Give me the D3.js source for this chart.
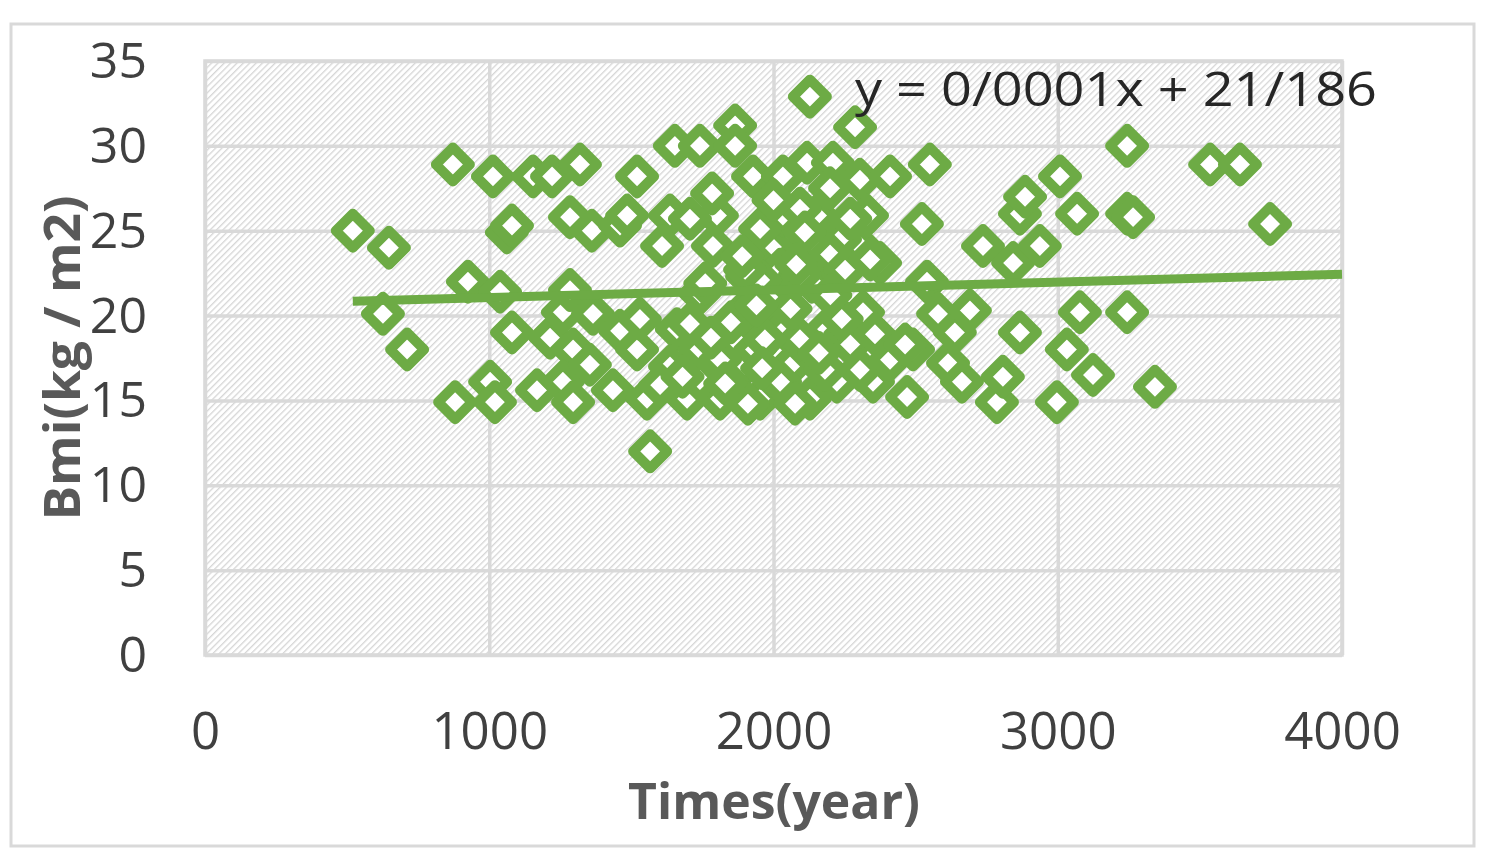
<!DOCTYPE html>
<html>
<head>
<meta charset="utf-8">
<script src="https://cdn.jsdelivr.net/npm/d3@7/dist/d3.min.js"></script>
<style>
  html, body { margin: 0; padding: 0; background: #ffffff; }
  svg { display: block; }
</style>
</head>
<body>
<svg id="chart" width="1500" height="860"></svg>
<script>
// ---- data ----
const times = [
  520, 647, 626, 711, 872, 925, 880, 1013, 1003, 1020,
  1038, 1062, 1080, 1080, 1154, 1221, 1319, 1168, 1214, 1259,
  1284, 1284, 1295, 1259, 1295, 1361, 1365, 1354, 1435, 1460,
  1460, 1520, 1520, 1555, 1566, 1485, 1636, 1608, 1653, 1660,
  1696, 1741, 1741, 1636, 1787, 1801, 1812, 1865, 1865, 1872,
  1893, 1907, 1928, 1953, 1977, 1998, 1998, 2033, 2051, 2033,
  2058, 2023, 2118, 2118, 2128, 2128, 2153, 2153, 2188, 2209,
  2223, 2287, 2304, 2315, 2329, 2304, 2350, 2350, 2375, 2410,
  2470, 2491, 2522, 2540, 2550, 2579, 2614, 2638, 2663, 2691,
  2737, 2786, 2807, 2843, 2867, 2885, 2867, 2937, 2997, 3008,
  3032, 3068, 3078, 3124, 3244, 3244, 3265, 3244, 3342, 3536,
  3641, 3747, 1741, 1706, 1784, 1829, 1882, 1900, 1935, 1988,
  2040, 2093, 2135, 2093, 2199, 2234, 2252, 2270, 2304, 2199,
  2252, 2270, 2340, 2357, 2410, 2463, 1953, 2023, 2093, 1953,
  1910, 2076, 1706, 1900, 1812, 1970, 2181, 1530, 1601, 1741,
  1850, 1960, 2060, 2160, 1780, 2000, 2110, 1890, 2240, 1680,
  1830, 2080, 1940, 2200, 1760
];
const bmi = [
  25.0, 24.0, 20.1, 18.0, 28.9, 22.0, 14.9, 28.2, 16.1, 14.9,
  21.4, 24.9, 25.3, 19.0, 28.2, 28.2, 28.9, 15.6, 18.7, 20.2,
  21.5, 25.8, 18.0, 16.1, 14.9, 25.0, 20.1, 17.1, 15.6, 19.1,
  25.3, 28.2, 18.0, 15.1, 12.0, 25.9, 25.9, 24.1, 30.0, 19.2,
  15.1, 30.0, 18.0, 17.0, 24.1, 25.9, 15.1, 31.2, 30.0, 17.0,
  20.2, 22.3, 28.2, 15.1, 19.2, 18.0, 24.1, 28.2, 25.1, 25.9,
  17.0, 16.1, 29.0, 22.3, 32.9, 15.1, 25.9, 24.1, 19.2, 29.0,
  16.1, 31.1, 28.0, 20.2, 25.9, 24.1, 18.0, 16.1, 23.1, 28.2,
  15.2, 18.0, 25.4, 22.0, 28.9, 20.1, 17.2, 19.0, 16.1, 20.3,
  24.1, 14.9, 16.4, 23.1, 26.0, 27.0, 19.0, 24.1, 14.9, 28.2,
  18.0, 26.0, 20.2, 16.5, 30.0, 26.0, 25.8, 20.2, 15.8, 28.9,
  28.9, 25.4, 21.3, 19.5, 27.2, 18.9, 18.3, 17.1, 18.0, 21.0,
  19.2, 18.6, 22.0, 26.3, 27.5, 24.5, 18.9, 18.3, 16.8, 23.6,
  22.7, 25.7, 23.3, 18.9, 17.4, 18.3, 25.1, 22.7, 22.4, 22.1,
  14.8, 14.8, 25.7, 22.7, 17.4, 18.6, 16.8, 19.8, 15.9, 16.2,
  19.6, 16.9, 20.4, 17.8, 18.7, 26.8, 24.9, 23.5, 19.8, 16.4,
  16.0, 23.0, 20.6, 21.2, 21.9
];
const xTicks = [0, 1000, 2000, 3000, 4000];
const yTicks = [0, 5, 10, 15, 20, 25, 30, 35];
const trendX = [520, 4000];
const trendY = [20.84, 22.43];
const equationText = "y = 0/0001x + 21/186";
const xTitle = "Times(year)";
const yTitle = "Bmi(kg / m2)";

// ---- drawing ----
const svg = d3.select("#chart");
const plot = { left: 205, top: 61, right: 1342, bottom: 655 };
const green = "#6DAB45";
const grid = "#d9d9d9";
const FONT = "'Open Sans', 'DejaVu Sans', sans-serif";

const x = d3.scaleLinear().domain([0, 4000]).range([plot.left, plot.right]);
const y = d3.scaleLinear().domain([0, 35]).range([plot.bottom, plot.top]);

// outer chart border
svg.append("rect")
  .attr("x", 11).attr("y", 24).attr("width", 1463).attr("height", 822)
  .attr("fill", "#ffffff").attr("stroke", grid).attr("stroke-width", 3);

// hatch pattern
const defs = svg.append("defs");
const pat = defs.append("pattern")
  .attr("id", "hatch").attr("patternUnits", "userSpaceOnUse")
  .attr("width", 4.5).attr("height", 4.5)
  .attr("patternTransform", "rotate(-45)");
pat.append("rect").attr("width", 4.5).attr("height", 4.5).attr("fill", "#ffffff");
pat.append("rect").attr("x", 0).attr("y", 0).attr("width", 4.5).attr("height", 1.3).attr("fill", "#d6d6d6");

svg.append("rect")
  .attr("x", plot.left).attr("y", plot.top)
  .attr("width", plot.right - plot.left).attr("height", plot.bottom - plot.top)
  .attr("fill", "url(#hatch)");

// gridlines via axes
const gY = svg.append("g")
  .attr("transform", `translate(${plot.left},0)`)
  .call(d3.axisLeft(y).tickValues(yTicks).tickSize(-(plot.right - plot.left)).tickFormat(""));
gY.select(".domain").remove();
gY.selectAll("line").attr("stroke", grid).attr("stroke-width", 3.5);

const gX = svg.append("g")
  .attr("transform", `translate(0,${plot.bottom})`)
  .call(d3.axisBottom(x).tickValues(xTicks).tickSize(-(plot.bottom - plot.top)).tickFormat(""));
gX.select(".domain").remove();
gX.selectAll("line").attr("stroke", grid).attr("stroke-width", 3.5);

// plot border
svg.append("rect")
  .attr("x", plot.left).attr("y", plot.top)
  .attr("width", plot.right - plot.left).attr("height", plot.bottom - plot.top)
  .attr("fill", "none").attr("stroke", grid).attr("stroke-width", 3.5);

// tick labels
const yLab = svg.append("g")
  .attr("transform", `translate(147,0)`)
  .call(d3.axisLeft(y).tickValues(yTicks).tickSize(0).tickPadding(0).tickFormat(d3.format("d")));
yLab.select(".domain").remove();
yLab.selectAll("text")
  .attr("font-family", FONT).attr("font-size", 50).attr("fill", "#404040")
  .attr("dy", "0.33em");

const xLab = svg.append("g")
  .attr("transform", `translate(0,712)`)
  .call(d3.axisBottom(x).tickValues(xTicks).tickSize(0).tickPadding(0).tickFormat(d3.format("d")));
xLab.select(".domain").remove();
xLab.selectAll("text")
  .attr("font-family", FONT).attr("font-size", 51).attr("fill", "#404040")
  .attr("dy", "0.72em");

// markers
const h = 17;
const diamond = `M0,${-h}L${h},0L0,${h}L${-h},0Z`;
svg.append("g").selectAll("path")
  .data(times.map((t, i) => [t, bmi[i]]))
  .join("path")
  .attr("d", diamond)
  .attr("transform", d => `translate(${x(d[0])},${y(d[1])})`)
  .attr("fill", "#ffffff")
  .attr("stroke", green)
  .attr("stroke-width", 10)
  .attr("stroke-linejoin", "round");

// trend line
svg.append("path")
  .datum(trendX.map((t, i) => [t, trendY[i]]))
  .attr("d", d3.line().x(d => x(d[0])).y(d => y(d[1])))
  .attr("fill", "none").attr("stroke", green).attr("stroke-width", 9);

// equation
svg.append("text")
  .attr("x", 855).attr("y", 106)
  .attr("font-family", FONT).attr("font-size", 48).attr("fill", "#262626")
  .attr("textLength", 522).attr("lengthAdjust", "spacingAndGlyphs")
  .text(equationText);

// axis titles
svg.append("text")
  .attr("x", 774).attr("y", 819)
  .attr("text-anchor", "middle")
  .attr("font-family", FONT).attr("font-size", 50).attr("font-weight", "bold")
  .attr("fill", "#595959")
  .attr("textLength", 292).attr("lengthAdjust", "spacingAndGlyphs")
  .text(xTitle);

svg.append("text")
  .attr("transform", `translate(80,358) rotate(-90)`)
  .attr("text-anchor", "middle")
  .attr("font-family", FONT).attr("font-size", 50).attr("font-weight", "bold")
  .attr("fill", "#595959")
  .attr("textLength", 325).attr("lengthAdjust", "spacingAndGlyphs")
  .text(yTitle);
</script>
</body>
</html>
